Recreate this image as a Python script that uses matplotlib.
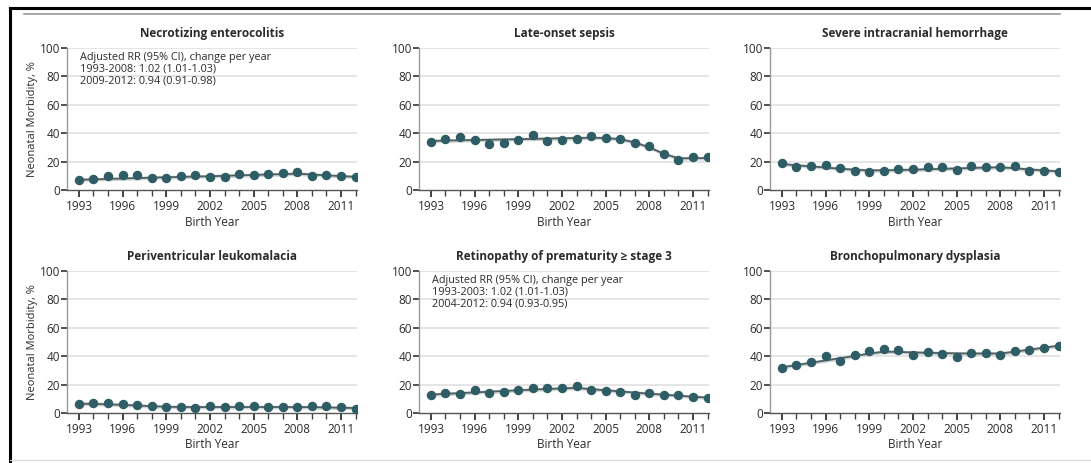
import numpy as np
import matplotlib
matplotlib.use('Agg')
import matplotlib.pyplot as plt
from matplotlib.lines import Line2D

plt.rcParams['font.family'] = ['Open Sans', 'DejaVu Sans']

# Dados
years = list(range(1993, 2013))

titles = ['Necrotizing enterocolitis', 'Late-onset sepsis', 'Severe intracranial hemorrhage',
          'Periventricular leukomalacia', 'Retinopathy of prematurity \u2265 stage 3',
          'Bronchopulmonary dysplasia']

nec = [6.8, 7.6, 9.8, 10.5, 10.5, 8.8, 8.8, 9.8, 10.5, 9.5,
       9.5, 11.0, 10.7, 11.2, 11.7, 12.7, 10.0, 10.5, 10.0, 9.5]
los = [34.1, 36.0, 37.2, 35.0, 32.5, 33.0, 35.0, 38.4, 34.6, 35.0,
       36.0, 37.9, 36.7, 36.0, 33.0, 30.8, 25.4, 21.4, 23.0, 23.0]
ich = [19.3, 16.1, 16.6, 17.6, 15.4, 13.7, 13.0, 13.5, 14.7, 14.7,
       15.9, 15.9, 14.0, 16.9, 15.9, 15.9, 17.1, 13.7, 13.7, 12.8]
pvl = [6.3, 6.7, 6.7, 6.3, 5.5, 4.6, 3.9, 3.9, 3.4, 4.6,
       3.9, 4.6, 4.6, 3.9, 3.9, 3.9, 5.1, 4.6, 3.9, 3.1]
rop = [12.8, 14.0, 13.3, 15.9, 14.2, 14.9, 16.1, 17.3, 17.3, 17.3,
       18.8, 16.4, 15.7, 14.9, 13.0, 14.2, 13.0, 12.5, 11.3, 10.4]
bpd = [31.9, 34.0, 35.6, 40.2, 36.7, 40.5, 43.5, 45.1, 44.4, 40.9,
       43.0, 41.9, 39.5, 42.3, 42.3, 40.5, 43.5, 44.4, 46.0, 47.0]

# Linhas de tendência (estimadas)
nec_fit = [7.2, 7.5, 7.8, 8.1, 8.4, 8.7, 9.0, 9.2, 9.5, 9.7,
           10.0, 10.3, 10.6, 10.9, 11.2, 11.5, 10.9, 10.3, 9.8, 9.3]
los_fit = [34.5, 34.8, 35.0, 35.2, 35.4, 35.6, 35.8, 36.0, 36.2, 36.4,
           36.6, 36.8, 36.6, 35.8, 33.5, 30.0, 25.5, 22.3, 22.4, 22.5]
ich_fit = [18.3, 17.4, 16.6, 15.8, 15.0, 14.3, 13.8, 13.9, 14.1, 14.3,
           14.6, 14.9, 15.2, 15.5, 15.8, 16.0, 15.3, 14.5, 13.8, 13.1]
pvl_fit = [6.6, 6.4, 6.1, 5.7, 5.3, 4.8, 4.4, 4.2, 4.2, 4.2,
           4.2, 4.2, 4.2, 4.2, 4.2, 4.2, 4.1, 3.9, 3.7, 3.5]
rop_fit = [13.0, 13.5, 14.0, 14.5, 15.0, 15.5, 16.0, 16.5, 16.9, 17.3,
           17.7, 16.8, 16.0, 15.2, 14.4, 13.6, 12.9, 12.2, 11.5, 10.8]
bpd_fit = [32.2, 33.8, 35.4, 37.0, 38.6, 40.2, 41.8, 43.2, 43.0, 42.7,
           42.4, 42.2, 42.0, 41.9, 41.9, 41.9, 43.2, 44.6, 46.0, 47.4]

series = [nec, los, ich, pvl, rop, bpd]
fits = [nec_fit, los_fit, ich_fit, pvl_fit, rop_fit, bpd_fit]

notes = {0: 'Adjusted RR (95% CI), change per year\n1993-2008: 1.02 (1.01-1.03)\n2009-2012: 0.94 (0.91-0.98)',
         4: 'Adjusted RR (95% CI), change per year\n1993-2003: 1.02 (1.01-1.03)\n2004-2012: 0.94 (0.93-0.95)'}

W, H = 1091, 463
fig = plt.figure(figsize=(W / 100, H / 100), dpi=100)

lefts = [67, 419, 770]
bottoms = [190, 413]
aw, ah = 290, 142

dot = '#2e5d66'
txt = '#2b2b2b'

for i in range(6):
    r, c = divmod(i, 3)
    ax = fig.add_axes([lefts[c] / W, 1 - bottoms[r] / H, aw / W, ah / H])
    yrs = np.array(years)
    fit = np.array(fits[i])
    ax.fill_between(yrs, fit - 1.3, fit + 1.3, color='#d2d4d4', lw=0, zorder=2)
    ax.plot(yrs, fit, color='#4f5f62', lw=1.3, zorder=3)
    ax.plot(yrs, series[i], 'o', color=dot, markersize=5.8, zorder=4)

    ax.set_xlim(1992.18, 2012.1)
    ax.set_ylim(0, 100)
    ax.set_yticks(range(0, 101, 20))
    ax.set_xticks(range(1993, 2012, 3))
    ax.set_xticks(years, minor=True)
    for g in range(20, 101, 20):
        ax.axhline(g, color='#dedede', lw=1.1, zorder=1)

    for s in ['top', 'right']:
        ax.spines[s].set_visible(False)
    ax.spines['left'].set_color('#9a9a9a')
    ax.spines['bottom'].set_color('#555555')
    ax.spines['left'].set_linewidth(1.0)
    ax.spines['bottom'].set_linewidth(1.0)

    ax.tick_params(axis='x', which='major', direction='out', length=5, width=1.3,
                   color='#333333', labelsize=8.5, labelcolor=txt, pad=2)
    ax.tick_params(axis='x', which='minor', direction='out', length=4, width=1.0,
                   color='#444444')
    ax.tick_params(axis='y', direction='out', length=4, width=1.2, color='#333333',
                   labelsize=8.5, labelcolor=txt, pad=1)

    ax.set_title(titles[i], fontsize=8.5, fontweight='bold', color=txt, pad=8)
    ax.set_xlabel('Birth Year', fontsize=8.5, color=txt, labelpad=2)
    if c == 0:
        ax.set_ylabel('Neonatal Morbidity, %', fontsize=8, color=txt, labelpad=1)
    if i in notes:
        ax.text(1993.1, 97, notes[i], fontsize=7.8, color=txt, va='top', ha='left',
                linespacing=1.05)

# moldura da imagem
fig.add_artist(Line2D([10 / W, 1], [1 - 8 / H, 1 - 8 / H], color='black', lw=2.2))
fig.add_artist(Line2D([24 / W, 1060 / W], [1 - 14 / H, 1 - 14 / H], color='#9a9a9a', lw=1.2))
fig.add_artist(Line2D([10 / W, 10 / W], [0, 1 - 8 / H], color='black', lw=2.2))
fig.add_artist(Line2D([10 / W, 1], [1 - 460 / H, 1 - 460 / H], color='#d8d8d8', lw=0.8))

fig.savefig('out.png', dpi=100)
